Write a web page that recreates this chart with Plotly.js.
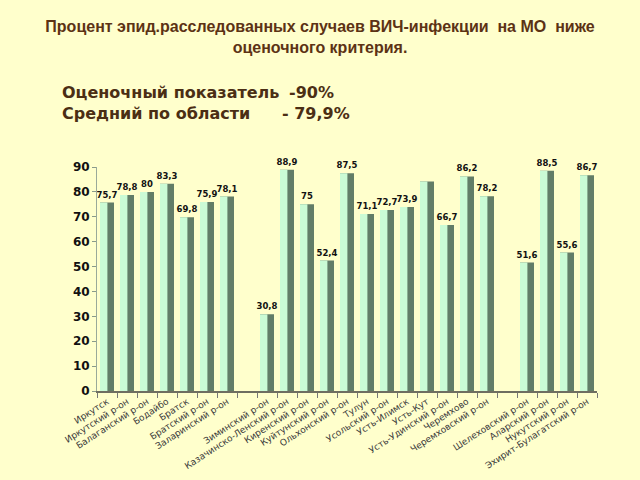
<!DOCTYPE html>
<html><head><meta charset="utf-8">
<script src="https://cdn.plot.ly/plotly-3.0.1.min.js"></script>
<style>html,body{margin:0;padding:0;background:#ffffcc}</style>
</head><body>
<div id="chart" style="width:640px;height:480px"></div>
<script>
const categories = [
  "Иркутск", "Иркутский р-он", "Балаганский р-он", "Бодайбо", "Братск",
  "Братский р-он", "Заларинский р-он", " ", "Зиминский р-он",
  "Казачинско-Ленский р-он", "Киренский р-он", "Куйтунский р-он",
  "Ольхонский р-он", "Тулун", "Усольский р-он", "Усть-Илимск", "Усть-Кут",
  "Усть-Удинский р-он", "Черемхово", "Черемховский р-он", "  ",
  "Шелеховский р-он", "Аларский р-он", "Нукутский р-он",
  "Эхирит-Булагатский р-он"
];
const values = [
  75.7, 78.8, 80, 83.3, 69.8,
  75.9, 78.1, 0, 30.8,
  88.9, 75, 52.4,
  87.5, 71.1, 72.7, 73.9, 84.2,
  66.7, 86.2, 78.2, 0,
  51.6, 88.5, 55.6,
  86.7
];
const valueLabels = [
  "75,7", "78,8", "80", "83,3", "69,8",
  "75,9", "78,1", "", "30,8",
  "88,9", "75", "52,4",
  "87,5", "71,1", "72,7", "73,9", "",
  "66,7", "86,2", "78,2", "",
  "51,6", "88,5", "55,6",
  "86,7"
];
const titleText = "Процент эпид.расследованных случаев ВИЧ-инфекции  на МО  ниже<br>оценочного критерия.";
const noteLine1 = "Оценочный показатель";
const noteValue1 = "-90%";
const noteLine2 = "Средний по области";
const noteValue2 = "- 79,9%";

const darkTrace = {
  type: "bar", x: categories, y: values,
  width: 0.7,
  marker: { color: "#627d67", line: { width: 0 } },
  text: valueLabels, textposition: "outside", cliponaxis: false,
  constraintext: "none",
  textfont: { family: "DejaVu Sans, Verdana, sans-serif", size: 8.5, color: "#111", weight: "bold" },
  hoverinfo: "skip"
};
const lightTrace = {
  type: "bar", x: categories, y: values,
  width: 0.37, offset: -0.35,
  marker: { color: "#cafbd5", line: { width: 0 } },
  hoverinfo: "skip"
};

const noteFont = { family: "DejaVu Sans, Verdana, sans-serif", size: 16, color: "#4b2e14", weight: "bold" };
const layout = {
  width: 640, height: 480,
  paper_bgcolor: "#ffffcc", plot_bgcolor: "#ffffcc",
  margin: { l: 97, r: 43, t: 167, b: 89 },
  barmode: "overlay",
  showlegend: false,
  title: {
    text: titleText, x: 0.5, xref: "container", xanchor: "center",
    y: 1 - 32 / 480, yref: "container", yanchor: "middle",
    font: { family: "Liberation Sans, Arial, sans-serif", size: 16, color: "#5c3214", weight: "bold" }
  },
  xaxis: {
    type: "category", tickson: "boundaries", ticks: "outside", ticklen: 5,
    tickcolor: "#777", tickangle: -33,
    showline: true, linecolor: "#6e6e60", linewidth: 2,
    showgrid: false, zeroline: false,
    tickfont: { family: "DejaVu Sans, Verdana, sans-serif", size: 9, color: "#3a3a3a" },
    fixedrange: true
  },
  yaxis: {
    range: [0, 90], dtick: 10, ticks: "outside", ticklen: 4, tickcolor: "#8a9a8a",
    showline: true, linecolor: "#9aaa9a", linewidth: 1,
    showgrid: false, zeroline: false,
    tickfont: { family: "DejaVu Sans, Verdana, sans-serif", size: 12, color: "#111", weight: "bold" },
    fixedrange: true
  },
  annotations: [
    { text: noteLine1, xref: "paper", yref: "paper", x: (60 - 97) / 500, y: (391 - 92) / 224,
      xanchor: "left", yanchor: "middle", showarrow: false, font: noteFont },
    { text: noteValue1, xref: "paper", yref: "paper", x: (287 - 97) / 500, y: (391 - 92) / 224,
      xanchor: "left", yanchor: "middle", showarrow: false, font: noteFont },
    { text: noteLine2, xref: "paper", yref: "paper", x: (60 - 97) / 500, y: (391 - 113) / 224,
      xanchor: "left", yanchor: "middle", showarrow: false, font: noteFont },
    { text: noteValue2, xref: "paper", yref: "paper", x: (280 - 97) / 500, y: (391 - 113) / 224,
      xanchor: "left", yanchor: "middle", showarrow: false, font: noteFont }
  ]
};
Plotly.newPlot("chart", [darkTrace, lightTrace], layout, { displayModeBar: false, staticPlot: true });
</script>
</body></html>
